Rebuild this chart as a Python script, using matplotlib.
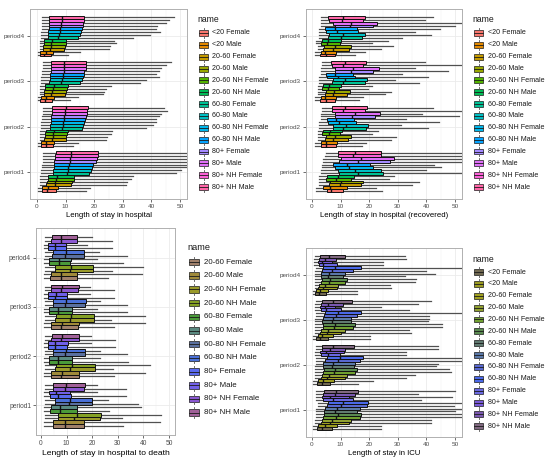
import matplotlib
matplotlib.use("Agg")
import matplotlib.pyplot as plt
from matplotlib.patches import Rectangle

plt.rcParams['font.family'] = ['Liberation Sans', 'DejaVu Sans']

periods = ["period1", "period2", "period3", "period4"]
cats14 = ["<20 Female", "<20 Male", "20-60 Female", "20-60 Male", "20-60 NH Female",
          "20-60 NH Male", "60-80 Female", "60-80 Male", "60-80 NH Female", "60-80 NH Male",
          "80+ Female", "80+ Male", "80+ NH Female", "80+ NH Male"]
cats12 = cats14[2:]
xticks = [0, 10, 20, 30, 40, 50]

hue14 = ["#F8766D", "#E38900", "#C49A00", "#99A800", "#53B400", "#00BC56", "#00C094",
         "#00BFC4", "#00B6EB", "#06A4FF", "#A58AFF", "#DF70F8", "#FB61D7", "#FF66A8"]
death_colors = ["#a0806a", "#a08a3a", "#9a9a2a", "#84a024", "#4a9a3a", "#5a8a80",
                "#5a70a0", "#4a70d8", "#5a6af0", "#7060e8", "#8a58d0", "#a06098"]
icu_colors = ["#706850", "#9a9a20", "#a0a020", "#90a030", "#70a030", "#5a8a50",
              "#607a70", "#5a78a8", "#5868d0", "#4a68e8", "#6a68e0", "#7858d8",
              "#7a58b0", "#806880"]

# ---------------- Length of stay in hospital (per period: period1..period4) -------------
hosp_q1 = [[1.6, 1.8, 3.3, 3.4, 3.7, 3.8, 5.5, 5.7, 5.8, 5.9, 6.0, 6.2, 6.3, 6.5],
           [1.3, 1.5, 2.6, 2.8, 2.8, 3.0, 4.5, 4.7, 4.8, 4.9, 5.0, 5.1, 5.1, 5.2],
           [1.2, 1.4, 2.5, 2.6, 2.8, 2.9, 4.3, 4.5, 4.6, 4.7, 4.8, 4.9, 4.9, 5.0],
           [1.0, 1.2, 2.0, 2.2, 2.5, 2.6, 3.8, 4.0, 4.0, 4.1, 4.2, 4.2, 4.3, 4.3]]
hosp_med = [[3.5, 3.8, 6.2, 6.4, 6.8, 7.0, 10.5, 10.8, 11.0, 11.2, 11.5, 11.7, 11.9, 12.0],
            [3.0, 3.3, 5.2, 5.5, 5.6, 5.8, 8.8, 9.0, 9.2, 9.4, 9.6, 9.8, 9.8, 10.0],
            [2.9, 3.2, 5.0, 5.3, 5.6, 5.8, 8.5, 8.8, 9.0, 9.2, 9.3, 9.5, 9.5, 9.6],
            [2.5, 3.0, 4.5, 4.8, 5.0, 5.2, 7.5, 7.8, 8.0, 8.2, 8.4, 8.5, 8.6, 8.6]]
hosp_q3 = [[6.8, 7.2, 12.0, 12.3, 12.8, 13.0, 18.3, 19.0, 19.4, 19.6, 20.5, 21.0, 21.2, 21.3],
           [5.5, 6.0, 10.0, 10.3, 10.6, 10.9, 15.8, 16.2, 16.5, 16.8, 17.0, 17.4, 17.6, 17.8],
           [5.4, 5.9, 9.8, 10.2, 10.5, 10.7, 15.0, 15.6, 16.0, 16.3, 16.6, 17.0, 17.1, 17.2],
           [5.0, 5.5, 9.5, 9.8, 10.0, 10.2, 14.5, 15.0, 15.4, 15.8, 16.0, 16.2, 16.4, 16.5]]
hosp_lo = [[0.5, 0.5, 1.0, 1.0, 1.2, 1.2, 1.5, 1.5, 1.8, 1.8, 2.0, 2.0, 2.0, 2.0],
           [0.5, 0.5, 1.0, 1.0, 1.0, 1.2, 1.5, 1.5, 1.5, 1.8, 1.8, 2.0, 2.0, 2.0],
           [0.5, 0.5, 1.0, 1.0, 1.0, 1.2, 1.5, 1.5, 1.5, 1.8, 1.8, 2.0, 2.0, 2.0],
           [0.5, 0.5, 1.0, 1.0, 1.0, 1.2, 1.5, 1.5, 1.5, 1.6, 1.6, 1.8, 1.8, 1.8]]
hosp_hi = [[17.0, 18.7, 31.0, 31.5, 33.0, 33.5, 48.5, 50.5, 55, 55, 55, 55, 55, 55],
           [12.7, 14.5, 24.0, 24.5, 26.0, 26.3, 38.0, 40.6, 41.5, 41.7, 42.5, 43.5, 45.6, 44.4],
           [11.5, 14.4, 23.0, 23.5, 24.3, 26.0, 36.0, 38.0, 42.7, 41.7, 42.5, 43.5, 45.0, 47.0],
           [11.0, 15.0, 25.0, 25.5, 27.5, 27.0, 33.6, 39.4, 43.0, 41.5, 42.0, 45.0, 46.0, 48.0]]

# ---------------- Length of stay in hospital (recovered) ----------------
rec_q1 = [[5.3, 4.0, 6.0, 6.3, 5.0, 5.3, 9.5, 9.2, 8.0, 7.4, 9.5, 10.3, 9.0, 9.2],
          [3.0, 3.2, 4.6, 5.0, 3.6, 4.0, 7.2, 7.5, 5.5, 5.2, 8.0, 8.0, 7.0, 6.9],
          [2.8, 3.0, 4.4, 4.8, 3.4, 3.8, 7.0, 7.2, 5.2, 5.0, 8.0, 8.2, 7.0, 6.8],
          [2.7, 3.0, 4.0, 4.3, 3.2, 3.4, 5.7, 6.0, 5.0, 4.5, 8.0, 7.4, 6.0, 5.7]]
rec_med = [[6.6, 6.3, 9.8, 10.3, 8.4, 9.2, 16.0, 15.0, 13.0, 12.1, 16.0, 17.3, 14.5, 15.0],
           [5.0, 4.8, 7.5, 8.2, 5.8, 6.3, 11.0, 12.0, 9.3, 8.5, 14.0, 15.0, 11.0, 11.5],
           [4.8, 4.5, 7.2, 7.8, 5.5, 6.0, 10.8, 11.5, 9.0, 8.2, 13.5, 14.4, 11.0, 11.5],
           [4.8, 4.5, 7.4, 8.0, 5.2, 5.7, 10.3, 10.9, 8.6, 8.0, 13.3, 13.8, 10.5, 10.9]]
rec_q3 = [[10.9, 12.1, 17.3, 17.9, 13.8, 14.8, 24.9, 24.0, 21.5, 20.2, 27.2, 28.7, 24.0, 24.3],
          [8.5, 8.8, 12.5, 13.5, 9.8, 10.5, 19.0, 19.5, 15.5, 14.8, 22.0, 23.7, 18.5, 19.4],
          [8.2, 8.5, 12.3, 13.3, 9.5, 10.2, 18.5, 19.2, 15.2, 14.5, 21.5, 23.5, 18.0, 18.8],
          [7.9, 8.3, 12.9, 13.6, 9.7, 10.3, 17.6, 18.7, 16.0, 15.6, 21.4, 22.6, 17.8, 18.5]]
rec_lo = [[1.5, 1.5, 2.5, 2.5, 2.5, 2.5, 3.0, 3.0, 3.5, 3.5, 4.0, 4.0, 4.5, 5.0],
          [1.0, 1.0, 2.0, 2.0, 2.0, 2.0, 2.5, 2.5, 2.5, 3.0, 3.0, 3.0, 3.5, 3.5],
          [1.0, 1.0, 2.0, 2.0, 2.0, 2.0, 2.5, 2.5, 2.5, 3.0, 3.0, 3.0, 3.5, 3.5],
          [1.0, 1.0, 2.0, 2.0, 1.5, 1.5, 2.5, 2.5, 2.5, 2.5, 3.0, 3.0, 3.0, 3.0]]
rec_hi = [[24.5, 22.5, 35.0, 37.5, 26.8, 28.5, 55, 40.0, 45.0, 42.7, 55, 55, 52.0, 55],
          [17.5, 19.0, 27.5, 29.5, 21.0, 23.0, 40.6, 31.0, 44.5, 33.0, 51.3, 38.5, 55, 42.3],
          [16.5, 18.0, 25.5, 27.5, 19.5, 21.0, 37.5, 29.0, 40.5, 31.5, 47.5, 36.0, 55, 39.5],
          [15.0, 18.5, 24.3, 28.4, 21.0, 26.6, 31.3, 41.7, 36.0, 44.7, 50.0, 55, 39.5, 42.3]]

# ---------------- Length of stay in hospital to death (12 groups) ----------------
death_q1 = [[4.7, 4.8, 6.5, 6.7, 3.7, 4.0, 5.6, 5.6, 3.5, 3.0, 4.5, 4.7],
            [4.0, 4.0, 5.5, 5.8, 3.0, 3.2, 4.5, 4.5, 2.8, 2.8, 4.0, 4.2],
            [3.8, 4.0, 5.5, 5.7, 3.0, 3.2, 4.5, 4.5, 2.8, 2.8, 3.8, 4.0],
            [3.7, 3.8, 5.4, 5.5, 3.1, 3.2, 4.3, 4.5, 2.7, 2.8, 3.8, 4.1]]
death_med = [[9.3, 9.5, 13.0, 13.9, 7.3, 7.5, 11.0, 11.3, 6.5, 6.0, 9.5, 9.6],
             [8.0, 8.2, 11.5, 12.0, 6.5, 6.7, 9.5, 9.7, 5.5, 5.6, 8.0, 8.3],
             [8.0, 8.2, 11.5, 11.7, 6.5, 6.7, 9.5, 9.8, 5.6, 5.7, 8.0, 8.3],
             [7.9, 8.0, 11.5, 11.6, 7.1, 7.0, 9.2, 9.6, 5.4, 5.5, 8.0, 8.0]]
death_q3 = [[16.8, 16.8, 23.0, 23.5, 13.9, 14.0, 19.8, 20.0, 11.8, 11.5, 16.8, 17.1],
            [14.7, 14.8, 21.0, 21.2, 12.0, 12.2, 17.0, 17.3, 10.3, 10.5, 14.8, 15.0],
            [14.5, 14.8, 20.5, 20.8, 12.0, 12.0, 17.0, 17.5, 10.0, 10.3, 14.5, 14.8],
            [14.1, 14.2, 20.2, 20.4, 11.5, 11.6, 16.8, 16.9, 9.7, 9.8, 14.0, 14.1]]
death_lo = [[1.0, 1.0, 1.5, 1.5, 1.0, 1.0, 1.5, 1.5, 1.0, 1.0, 1.5, 1.5],
            [1.0, 1.0, 1.5, 1.5, 1.0, 1.0, 1.5, 1.5, 1.0, 1.0, 1.5, 1.5],
            [1.0, 1.0, 1.5, 1.5, 1.0, 1.0, 1.5, 1.5, 1.0, 1.0, 1.5, 1.5],
            [1.0, 1.0, 1.5, 1.5, 1.0, 1.0, 1.5, 1.5, 1.0, 1.0, 1.5, 1.5]]
death_hi = [[32.2, 46.4, 31.5, 46.8, 26.5, 39.0, 38.0, 26.0, 33.0, 22.0, 33.2, 22.0],
            [28.5, 40.5, 28.0, 42.5, 34.0, 23.0, 33.5, 23.0, 29.0, 19.5, 29.0, 19.5],
            [28.5, 40.5, 27.5, 40.5, 33.5, 22.0, 33.5, 23.0, 28.5, 19.0, 28.5, 19.0],
            [26.3, 39.5, 27.6, 39.8, 32.0, 22.0, 33.5, 22.5, 27.6, 18.0, 27.6, 19.8]]

# ---------------- Length of stay in ICU ----------------
icu_q1 = [[1.6, 2.0, 3.1, 3.4, 3.9, 4.3, 4.2, 4.5, 5.1, 5.7, 4.0, 3.4, 4.0, 4.3],
          [1.6, 2.0, 3.0, 3.4, 3.9, 4.2, 3.7, 3.9, 4.5, 5.1, 3.1, 2.8, 3.4, 3.6],
          [1.3, 2.0, 2.8, 3.1, 3.7, 3.9, 3.6, 3.9, 4.3, 4.5, 3.1, 2.8, 3.1, 3.6],
          [1.0, 1.4, 2.2, 2.4, 3.1, 3.4, 3.1, 3.1, 3.4, 4.0, 2.4, 2.0, 2.4, 2.8]]
icu_med = [[3.4, 4.5, 6.3, 6.9, 8.5, 9.2, 8.0, 8.6, 10.3, 10.9, 7.5, 6.3, 8.0, 8.3],
           [3.4, 4.0, 5.4, 6.0, 7.8, 8.0, 6.9, 7.4, 9.2, 9.8, 5.7, 5.0, 6.3, 7.4],
           [2.8, 3.4, 5.1, 5.7, 7.6, 8.0, 6.9, 7.4, 8.3, 9.2, 4.8, 4.5, 5.7, 7.4],
           [2.5, 2.8, 4.0, 4.5, 6.0, 6.3, 5.7, 5.9, 6.9, 8.0, 4.0, 3.4, 4.5, 5.9]]
icu_q3 = [[6.9, 8.6, 13.1, 13.8, 16.8, 17.3, 15.6, 16.7, 19.4, 19.7, 14.5, 12.9, 15.0, 16.2],
          [6.4, 7.8, 11.5, 12.4, 15.0, 15.6, 14.6, 15.0, 16.8, 17.9, 9.8, 11.3, 11.5, 14.7],
          [5.7, 7.4, 10.3, 11.7, 14.4, 15.0, 13.6, 13.8, 15.6, 17.3, 10.3, 8.0, 10.9, 14.0],
          [5.0, 5.7, 8.6, 9.2, 11.7, 12.1, 11.0, 11.5, 14.4, 17.1, 8.6, 6.9, 8.5, 11.5]]
icu_lo = [[0.5, 0.5, 1.0, 1.0, 1.5, 1.5, 1.5, 1.5, 2.0, 2.0, 1.5, 1.5, 1.5, 1.5],
          [0.5, 0.5, 1.0, 1.0, 1.0, 1.0, 1.0, 1.5, 1.5, 1.5, 1.0, 1.0, 1.5, 1.5],
          [0.5, 0.5, 1.0, 1.0, 1.0, 1.0, 1.0, 1.0, 1.5, 1.5, 1.0, 1.0, 1.0, 1.5],
          [0.3, 0.5, 1.0, 1.0, 1.0, 1.0, 1.0, 1.0, 1.0, 1.5, 0.8, 0.8, 0.8, 1.0]]
icu_hi = [[24.0, 24.3, 41.5, 41.5, 55, 55, 49.9, 55, 49.5, 55, 38.0, 49.0, 37.0, 50.0],
          [16.0, 21.4, 33.0, 36.0, 48.5, 48.0, 43.5, 44.0, 55, 55, 33.0, 33.0, 44.0, 44.0],
          [20.2, 20.2, 34.5, 34.0, 45.5, 45.5, 40.5, 41.0, 41.0, 55, 34.0, 24.3, 37.0, 41.7],
          [15.9, 15.6, 27.5, 27.2, 36.0, 36.5, 32.5, 43.0, 40.0, 55, 25.0, 25.0, 33.0, 32.6]]

W, H = 550, 463
fig = plt.figure(figsize=(W / 100, H / 100), dpi=100)


def ax_px(l, t, r, b):
    return fig.add_axes([l / W, 1 - b / H, (r - l) / W, (b - t) / H])


def draw_panel(box, xlim, xlabel, xlfs, cats, colors, q1, med, q3, lo, hi, tfs):
    ax = ax_px(*box)
    n = len(cats)
    slot = 0.9 / n
    for g in range(4):
        stats = []
        pos = []
        for i in range(n):
            stats.append(dict(med=med[g][i], q1=q1[g][i], q3=q3[g][i],
                              whislo=lo[g][i], whishi=hi[g][i], fliers=[]))
            pos.append(g + 1 - 0.45 + (i + 0.5) * slot)
        kw = dict(positions=pos, widths=slot * 1.0, patch_artist=True,
                  showfliers=False, showcaps=False,
                  boxprops=dict(edgecolor="#111111", linewidth=0.7),
                  medianprops=dict(color="#111111", linewidth=1.0),
                  whiskerprops=dict(color="#505050", linewidth=0.9))
        try:
            res = ax.bxp(stats, orientation="horizontal", **kw)
        except TypeError:
            res = ax.bxp(stats, vert=False, **kw)
        for patch, c in zip(res["boxes"], colors):
            patch.set_facecolor(c)
            patch.set_zorder(3)
        for m in res["medians"]:
            m.set_zorder(4)
    ax.set_xlim(*xlim)
    ax.set_ylim(0.4, 4.6)
    ax.set_xticks(xticks)
    ax.set_xticks([5, 15, 25, 35, 45], minor=True)
    ax.set_yticks([1, 2, 3, 4])
    ax.set_yticklabels(periods)
    ax.set_xticklabels([str(v) for v in xticks])
    ax.grid(True, which="major", color="#ebebeb", linewidth=0.6, zorder=0)
    ax.grid(True, which="minor", axis="x", color="#f2f2f2", linewidth=0.35, zorder=0)
    ax.set_axisbelow(True)
    for s in ax.spines.values():
        s.set_color("#b0b0b0")
        s.set_linewidth(0.7)
    ax.tick_params(axis="both", which="major", length=2, width=0.5, color="#333333",
                   labelsize=tfs, labelcolor="#4d4d4d", pad=1.5)
    ax.tick_params(axis="both", which="minor", length=0)
    ax.set_xlabel(xlabel, fontsize=xlfs, labelpad=2)
    return ax


draw_panel((30, 9, 187, 199), (-2.45, 52.45), "Length of stay in hospital", 5.6,
           cats14, hue14, hosp_q1, hosp_med, hosp_q3, hosp_lo, hosp_hi, 4.6)
draw_panel((306, 9, 462, 199), (-2.1, 52.45), "Length of stay in hospital (recovered)", 5.6,
           cats14, hue14, rec_q1, rec_med, rec_q3, rec_lo, rec_hi, 4.6)
draw_panel((36, 228, 175, 435), (-1.95, 52.3), "Length of stay in hospital to death", 6.1,
           cats12, death_colors, death_q1, death_med, death_q3, death_lo, death_hi, 4.8)
draw_panel((306, 248, 462, 437), (-2.1, 52.45), "Length of stay in ICU", 5.6,
           cats14, icu_colors, icu_q1, icu_med, icu_q3, icu_lo, icu_hi, 4.6)

# legends (overlay in pixel coordinates)
ov = fig.add_axes([0, 0, 1, 1])
ov.set_xlim(0, W)
ov.set_ylim(H, 0)
ov.axis("off")


def legend(x0, ytitle, y0, step, cats, colors, kw, fs, tfs):
    ov.text(x0 - 1, ytitle, "name", fontsize=tfs, va="center", ha="left", color="#1a1a1a")
    for i, (c, col) in enumerate(zip(cats, colors)):
        y = y0 + i * step
        ov.add_patch(Rectangle((x0 + kw * 0.1, y - kw * 0.27), kw * 0.8, kw * 0.54,
                               facecolor=col, edgecolor="#1a1a1a", linewidth=0.5))
        ov.plot([x0 + kw * 0.1, x0 + kw * 0.9], [y, y], color="#1a1a1a", lw=0.6)
        ov.plot([x0 + kw / 2, x0 + kw / 2], [y - kw * 0.45, y - kw * 0.27],
                color="#555555", lw=0.6)
        ov.plot([x0 + kw / 2, x0 + kw / 2], [y + kw * 0.27, y + kw * 0.45],
                color="#555555", lw=0.6)
        ov.text(x0 + kw + 3.5, y, c, fontsize=fs, va="center", ha="left", color="#1a1a1a")


legend(198, 20, 33, 11.85, cats14, hue14, 11, 5.1, 6.2)
legend(473, 20, 33, 11.85, cats14, hue14, 11, 5.1, 6.2)
legend(188, 248, 262, 13.7, cats12, death_colors, 12, 5.7, 6.6)
legend(473, 259, 272, 11.87, cats14, icu_colors, 11, 5.1, 6.2)

fig.savefig("out.png", dpi=100)
